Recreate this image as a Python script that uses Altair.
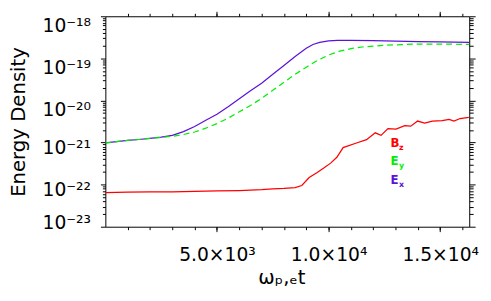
import altair as alt
import pandas as pd

# ---- data ----
ex_t = [0, 500, 1000, 1500, 2000, 2500, 3000, 3500, 4000, 4500, 5000, 5500, 6000, 6500, 7000,
        7500, 8000, 8500, 9000, 9300, 9600, 10000, 10400, 11000, 12000, 13000, 14000, 15000, 16300]
ex_e = [9.77e-22, 1.05e-21, 1.12e-21, 1.18e-21, 1.26e-21, 1.35e-21, 1.48e-21, 1.82e-21, 2.40e-21,
        3.39e-21, 4.68e-21, 7.08e-21, 1.10e-20, 1.70e-20, 2.57e-20, 4.17e-20, 6.76e-20, 1.10e-19,
        1.74e-19, 2.14e-19, 2.40e-19, 2.60e-19, 2.69e-19, 2.69e-19, 2.63e-19, 2.57e-19, 2.51e-19,
        2.45e-19, 2.40e-19]

ey_t = [0, 500, 1000, 1500, 2000, 2500, 3000, 3500, 4000, 4500, 5000, 5500, 6000, 6500, 7000,
        7500, 8000, 8500, 9000, 9500, 10000, 10500, 11000, 11500, 12000, 12500, 13000, 14000,
        15000, 16300]
ey_e = [9.77e-22, 1.05e-21, 1.12e-21, 1.18e-21, 1.26e-21, 1.32e-21, 1.41e-21, 1.55e-21, 1.78e-21,
        2.19e-21, 2.82e-21, 3.80e-21, 5.37e-21, 7.59e-21, 1.12e-20, 1.74e-20, 2.69e-20, 4.17e-20,
        6.17e-20, 8.91e-20, 1.20e-19, 1.48e-19, 1.70e-19, 1.86e-19, 1.95e-19, 2.04e-19, 2.09e-19,
        2.19e-19, 2.19e-19, 2.14e-19]

bz_t = [0, 1000, 2000, 3000, 4000, 5000, 6000, 6500, 7000, 7500, 8000, 8500, 8800, 9130, 9490,
        9800, 10090, 10370, 10650, 11250, 11700, 12090, 12350, 12660, 13020, 13410, 13680, 13990,
        14300, 14650, 15090, 15400, 15620, 15890, 16280]
bz_e = [6.46e-23, 6.61e-23, 6.76e-23, 6.76e-23, 6.92e-23, 7.08e-23, 7.24e-23, 7.41e-23, 7.59e-23,
        7.94e-23, 8.13e-23, 8.51e-23, 9.55e-23, 1.48e-22, 1.95e-22, 2.51e-22, 3.24e-22, 4.47e-22,
        7.59e-22, 9.77e-22, 1.17e-21, 1.70e-21, 1.48e-21, 2.14e-21, 2.09e-21, 2.51e-21, 2.45e-21,
        3.24e-21, 2.88e-21, 3.24e-21, 3.31e-21, 3.55e-21, 3.24e-21, 3.72e-21, 3.98e-21]

series_names = ["Ex", "Ey", "Bz"]
series_colors = ["#5a14d8", "#00ee00", "#ff0000"]

x_major = [5000, 10000, 15000]
x_major_labels = ["5.0×10³", "1.0×10⁴", "1.5×10⁴"]
x_minor = list(range(1000, 17000, 1000))

y_exponents = [-18, -19, -20, -21, -22, -23]
y_labels = ["10⁻¹⁸", "10⁻¹⁹", "10⁻²⁰", "10⁻²¹", "10⁻²²", "10⁻²³"]
y_major = [10.0 ** e for e in y_exponents]
y_minor = [k * 10.0 ** e for e in range(-23, -18) for k in range(2, 10)]

legend_main = ["B", "E", "E"]
legend_sub = ["z", "y", "x"]
legend_colors = ["#ff0000", "#00ee00", "#5a14d8"]

x_title = "ωₚ,ₑt"
y_title = "Energy Density"

FONT = "DejaVu Sans"
X_DOMAIN = [0, 16300]
Y_DOMAIN = [1e-23, 1e-18]

# ---- build frames ----
frames = {
    "Ex": pd.DataFrame({"t": ex_t, "e": ex_e}),
    "Ey": pd.DataFrame({"t": ey_t, "e": ey_e}),
    "Bz": pd.DataFrame({"t": bz_t, "e": bz_e}),
}
all_df = pd.concat([f.assign(s=n) for n, f in frames.items()], ignore_index=True)

x_label_expr = " : ".join(
    f"datum.value == {v} ? '{l}'" for v, l in zip(x_major, x_major_labels)) + " : ''"
y_label_expr = " : ".join(
    f"round(log(datum.value)/LN10) == {e} ? '{l}'" for e, l in zip(y_exponents, y_labels)) + " : ''"

xs = alt.Scale(domain=X_DOMAIN, nice=False, zero=False)
ys = alt.Scale(type="log", domain=Y_DOMAIN, nice=False)

common = dict(domain=False, grid=False, tickColor="black", tickWidth=1, labelColor="black",
              labelFont=FONT, titleFont=FONT, titleColor="black", titleFontWeight="normal")


def X(axis):
    return alt.X("t:Q", scale=xs, axis=axis)


def Y(axis):
    return alt.Y("e:Q", scale=ys, axis=axis)


ax_xb_major = alt.Axis(orient="bottom", values=x_major, labelExpr=x_label_expr, tickSize=5,
                       labelPadding=14, labelFontSize=19, labelAngle=0, title=x_title,
                       titleFontSize=20, titleX=179, titleY=58, titleBaseline="alphabetic",
                       titleAlign="center", **common)
ax_xb_minor = alt.Axis(orient="bottom", values=x_minor, labels=False, tickSize=3, title="", **common)
ax_xt_major = alt.Axis(orient="top", values=x_major, labels=False, tickSize=5, title="", **common)
ax_xt_minor = alt.Axis(orient="top", values=x_minor, labels=False, tickSize=3, title="", **common)

ax_yl_a = alt.Axis(orient="left", values=y_major[:3], labelExpr=y_label_expr, tickSize=5,
                   labelPadding=10, labelOffset=9, labelFontSize=19, labelBaseline="middle",
                   title=y_title, titleFontSize=20, titleX=-82, titleY=107, titleAngle=270,
                   titleBaseline="alphabetic", titleAlign="center", **common)
ax_yl_b = alt.Axis(orient="left", values=y_major[3:5], labelExpr=y_label_expr, tickSize=5,
                   labelPadding=10, labelOffset=5, labelFontSize=19, labelBaseline="middle",
                   title="", **common)
ax_yl_c = alt.Axis(orient="left", values=y_major[5:], labelExpr=y_label_expr, tickSize=5,
                   labelPadding=10, labelOffset=-4, labelFontSize=19, labelBaseline="middle",
                   title="", **common)
ax_yl_minor = alt.Axis(orient="left", values=y_minor, labels=False, tickSize=3, title="", **common)
ax_yr_major = alt.Axis(orient="right", values=y_major, labels=False, tickSize=6, title="", **common)
ax_yr_minor = alt.Axis(orient="right", values=y_minor, labels=False, tickSize=4, title="", **common)

base = alt.Chart(all_df)
axis_pairs = [
    (ax_xb_major, ax_yl_a),
    (ax_xb_minor, ax_yl_b),
    (ax_xt_major, ax_yl_c),
    (ax_xt_minor, ax_yl_minor),
    (None, ax_yr_major),
    (None, ax_yr_minor),
]
axis_layers = [
    base.mark_line(opacity=0).encode(x=X(ax), y=Y(ay), detail="s:N")
    for ax, ay in axis_pairs
]

line_layers = []
for name, color in zip(series_names, series_colors):
    mk = dict(color=color, strokeWidth=1.25, clip=True)
    if name == "Ey":
        mk["strokeDash"] = [6, 4]
    line_layers.append(
        alt.Chart(frames[name]).mark_line(**mk).encode(x=X(None), y=Y(None), order="t:Q")
    )

# legend text (annotation positions in pixels inside the plot area)
legend_layers = []
dummy = pd.DataFrame({"a": [0]})
main_y = [128.5, 147.5, 166.5]
for i, (m, s, c) in enumerate(zip(legend_main, legend_sub, legend_colors)):
    legend_layers.append(
        alt.Chart(dummy).mark_text(text=m, font=FONT, fontSize=12, fontWeight="bold",
                                   color=c, align="left", baseline="middle")
        .encode(x=alt.value(290), y=alt.value(main_y[i]))
    )
    legend_layers.append(
        alt.Chart(dummy).mark_text(text=s, font=FONT, fontSize=8, fontWeight="bold",
                                   color=c, align="left", baseline="middle")
        .encode(x=alt.value(298.5), y=alt.value(main_y[i] + 5))
    )

chart = (
    alt.layer(*axis_layers, *line_layers, *legend_layers)
    .resolve_axis(x="independent", y="independent")
    .properties(width=370, height=214, autosize="none",
                padding={"left": 99, "top": 6, "right": 14, "bottom": 65},
                background="white")
    .configure_view(stroke="black", strokeWidth=1)
)

chart.save("out.html", embed_options={"renderer": "svg", "actions": False})
